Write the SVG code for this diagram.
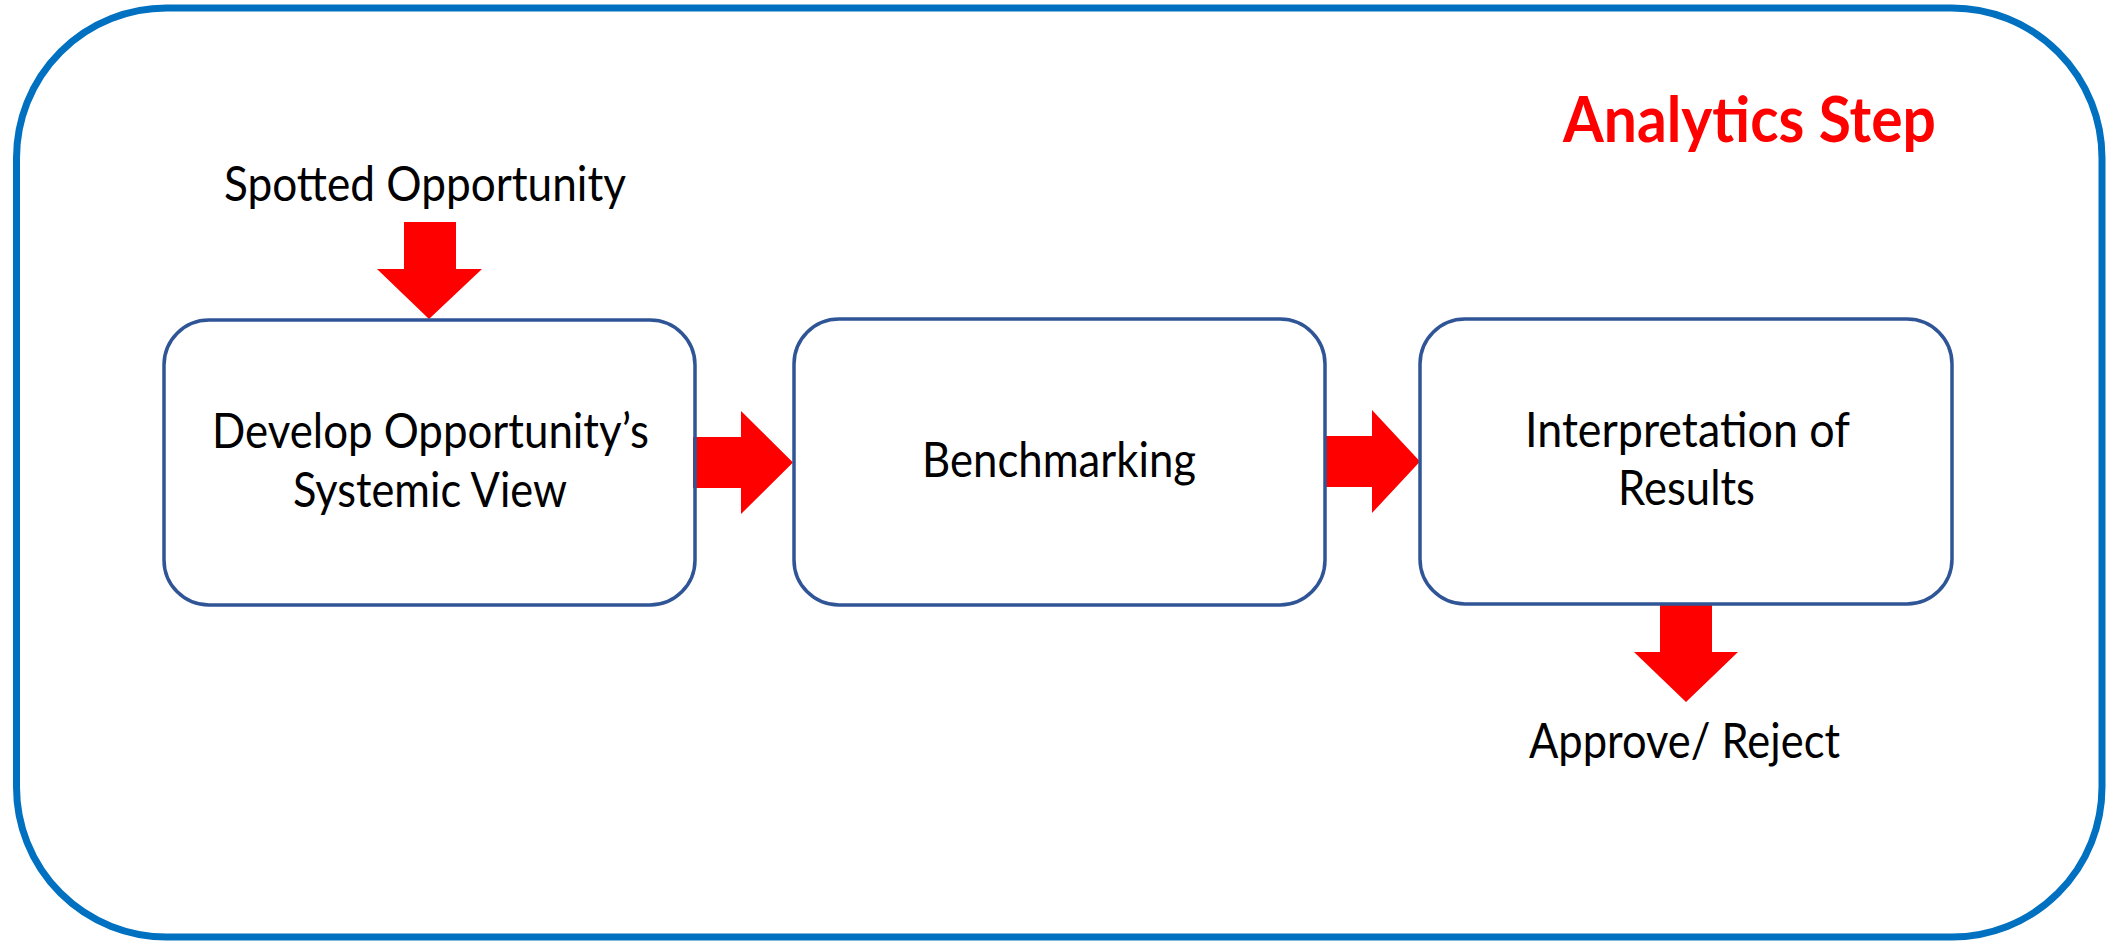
<svg xmlns="http://www.w3.org/2000/svg" width="2107" height="941" viewBox="0 0 2107 941">
  <style>
    .frame { fill: #FFFFFF; stroke: #0070C0; stroke-width: 7; }
    .box { fill: none; stroke: #2F5597; stroke-width: 3.5; }
    .arrow { fill: #FF0000; stroke: none; }
    .label { font-family: "Lato", "Open Sans", "Liberation Sans", sans-serif; font-size: 48px; fill: #000000; text-anchor: middle; }
    .title { font-family: "Lato", "Open Sans", "Liberation Sans", sans-serif; font-size: 64px; font-weight: bold; fill: #FF0000; text-anchor: middle; }
  </style>

  <!-- outer frame -->
  <rect class="frame" x="16.5" y="8" width="2085.5" height="929" rx="150" ry="150"/>

  <g id="title">
    <text class="title" x="1749.5" y="142" textLength="373" lengthAdjust="spacingAndGlyphs">Analytics Step</text>
  </g>

  <g id="spotted-opportunity">
    <text class="label" x="425" y="201" textLength="402" lengthAdjust="spacingAndGlyphs">Spotted Opportunity</text>
  </g>

  <g id="approve-reject">
    <text class="label" x="1684.5" y="758" textLength="311" lengthAdjust="spacingAndGlyphs">Approve/ Reject</text>
  </g>

  <!-- block arrows -->
  <g id="connectors">
    <polygon class="arrow" points="404,222 456,222 456,269 482,269 429,319 377,269 404,269"/>
    <polygon class="arrow" points="693,437 741,437 741,411 793,462.5 741,514 741,488 693,488"/>
    <polygon class="arrow" points="1325,436 1372,436 1372,410 1420,461.5 1372,513 1372,487 1325,487"/>
    <polygon class="arrow" points="1660,605 1712,605 1712,652 1738,652 1686,702 1634,652 1660,652"/>
  </g>

  <g id="develop-view">
    <rect class="box" x="164" y="320" width="531" height="285" rx="45" ry="45"/>
    <text class="label" x="430.5" y="448" textLength="437" lengthAdjust="spacingAndGlyphs">Develop Opportunity’s</text>
    <text class="label" x="430" y="507" textLength="274" lengthAdjust="spacingAndGlyphs">Systemic View</text>
  </g>

  <g id="benchmarking">
    <rect class="box" x="794" y="319" width="531" height="286" rx="45" ry="45"/>
    <text class="label" x="1059" y="477" textLength="274" lengthAdjust="spacingAndGlyphs">Benchmarking</text>
  </g>

  <g id="interpretation">
    <rect class="box" x="1420" y="319" width="532" height="285" rx="45" ry="45"/>
    <text class="label" x="1687.5" y="447" textLength="325" lengthAdjust="spacingAndGlyphs">Interpretation of</text>
    <text class="label" x="1686.5" y="505" textLength="137" lengthAdjust="spacingAndGlyphs">Results</text>
  </g>
</svg>
